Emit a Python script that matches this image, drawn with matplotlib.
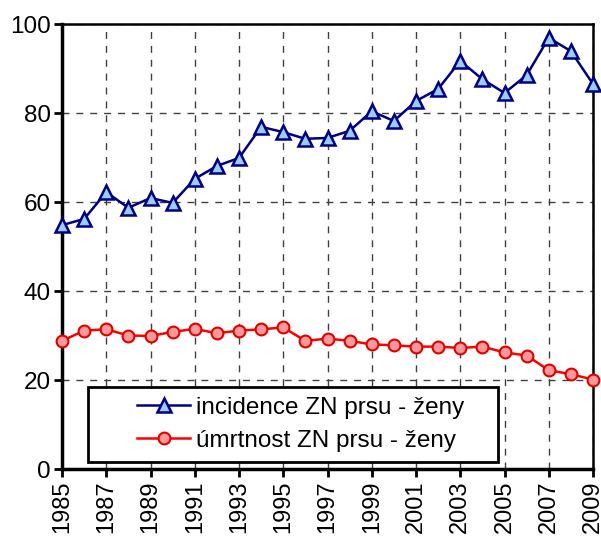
import matplotlib
matplotlib.use("Agg")
import matplotlib.pyplot as plt
from matplotlib.patches import Rectangle

plt.rcParams['font.family'] = ['Liberation Sans', 'DejaVu Sans']

years = list(range(1985, 2010))
incidence = [54.8, 56.2, 62.2, 58.7, 60.9, 59.8, 65.2, 68.1, 69.9, 76.9,
             75.7, 74.2, 74.4, 76.0, 80.4, 78.2, 82.7, 85.4, 91.7, 87.6,
             84.5, 88.5, 96.9, 93.9, 86.5]
mortality = [28.8, 31.1, 31.4, 30.0, 29.9, 30.8, 31.5, 30.5, 31.1, 31.4,
             31.8, 28.8, 29.3, 28.8, 28.0, 27.8, 27.5, 27.5, 27.2, 27.5,
             26.2, 25.5, 22.2, 21.3, 20.1]
year_ticks = list(range(1985, 2010, 2))
y_ticks = [0, 20, 40, 60, 80, 100]

fig = plt.figure(figsize=(6.01, 5.36), dpi=100)
ax = fig.add_axes([0.1032, 0.125, 0.8835, 0.8302])

ax.plot(years, incidence, color='#000080', lw=1.8, marker='^', ms=10,
        mfc='#99CCFF', mec='#000080', mew=1.8, clip_on=False, zorder=3,
        label='incidence ZN prsu - ženy')
ax.plot(years, mortality, color='#FF0000', lw=1.8, marker='o', ms=8.5,
        mfc='#FF9999', mec='#E00000', mew=1.5, clip_on=False, zorder=3,
        label='úmrtnost ZN prsu - ženy')

ax.set_xlim(1985, 2009)
ax.set_ylim(0, 100)
ax.set_xticks(year_ticks)
ax.set_xticklabels([str(y) for y in year_ticks], rotation=90, fontsize=17)
ax.set_yticks(y_ticks)
ax.set_yticklabels([str(v) for v in y_ticks], fontsize=17.5)
ax.tick_params(axis='both', direction='out', length=6, width=2)
ax.tick_params(axis='x', pad=2)
ax.tick_params(axis='y', pad=2)

ax.grid(True, color='#404040', ls=(0, (5, 5)), lw=1)
ax.set_axisbelow(True)
ax.spines['left'].set_linewidth(2.5)
ax.spines['bottom'].set_linewidth(2.5)
ax.spines['top'].set_linewidth(1.8)
ax.spines['right'].set_linewidth(1.8)

# legend box (fixed size, as in the original)
ax.add_patch(Rectangle((0.049, 0.0157), 0.772, 0.168, transform=ax.transAxes,
                       facecolor='white', edgecolor='black', lw=2, zorder=4,
                       clip_on=False))
leg = ax.legend(loc='center left', bbox_to_anchor=(0.141, 0.101), fontsize=17.5,
                frameon=False, handlelength=2.2, handletextpad=0.25,
                borderpad=0, labelspacing=0.45, borderaxespad=0)
leg.set_zorder(5)

fig.savefig('out.png', dpi=100)
